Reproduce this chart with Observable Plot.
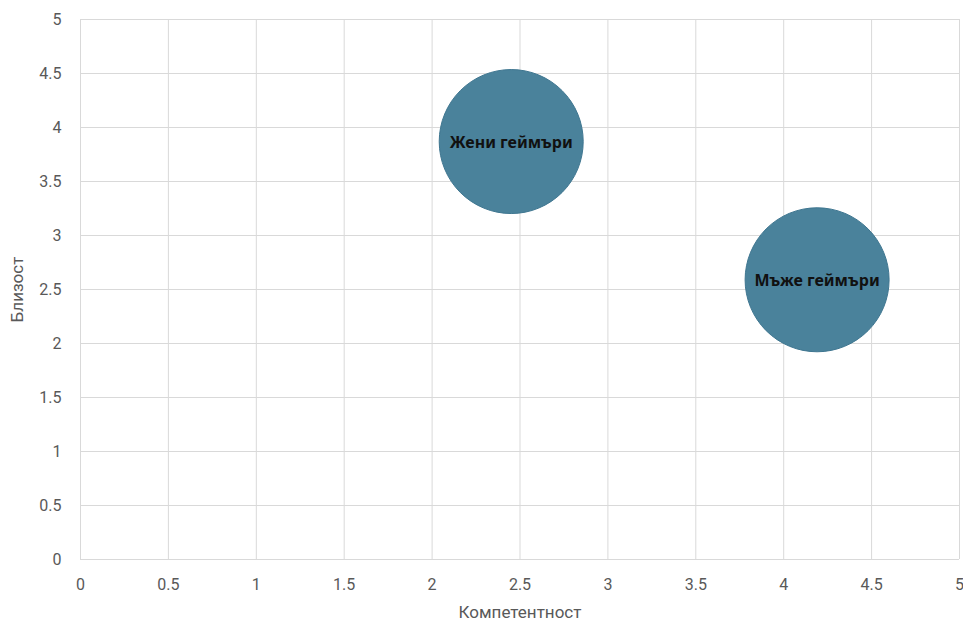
<!DOCTYPE html>
<html>
<head>
<meta charset="utf-8">
<script src="https://cdn.jsdelivr.net/npm/d3@7"></script>
<script src="https://cdn.jsdelivr.net/npm/@observablehq/plot@0.6"></script>
<style>
  html, body { margin: 0; padding: 0; background: #fff; }
  #chart { width: 963px; height: 624px; }
</style>
</head>
<body>
<div id="chart"></div>
<script>
const groups = ["Жени геймъри", "Мъже геймъри"];
const competence = [2.45, 4.19];
const closeness = [3.87, 2.59];
const bubbleSize = [10, 10];
const ticks = [0, 0.5, 1, 1.5, 2, 2.5, 3, 3.5, 4, 4.5, 5];

const data = groups.map((g, i) => ({
  group: g, x: competence[i], y: closeness[i], size: bubbleSize[i]
}));

const chart = Plot.plot({
  width: 963,
  height: 624,
  marginLeft: 80,
  marginRight: 4,
  marginTop: 19,
  marginBottom: 65,
  style: { fontFamily: "Roboto, 'Liberation Sans', sans-serif", background: "#fff" },
  x: { domain: [0, 5] },
  y: { domain: [0, 5] },
  r: { type: "linear", domain: [0, 10], range: [0, 72] },
  marks: [
    Plot.gridX(ticks, { stroke: "#d9d9d9", strokeOpacity: 1, strokeWidth: 1 }),
    Plot.gridY(ticks, { stroke: "#d9d9d9", strokeOpacity: 1, strokeWidth: 1 }),
    Plot.axisX(ticks, {
      tickSize: 0, tickPadding: 19, fontSize: 16, fill: "#595959",
      tickFormat: d => String(d),
      label: "Компетентност", labelAnchor: "center", labelOffset: 58
    }),
    Plot.axisY(ticks, {
      tickSize: 0, tickPadding: 19, fontSize: 16, fill: "#595959",
      tickFormat: d => String(d),
      label: "Близост", labelAnchor: "center", labelOffset: 70
    }),
    Plot.dot(data, {
      x: "x", y: "y", r: "size",
      fill: "#4a829b", stroke: "#3f7690", strokeWidth: 1
    }),
    Plot.text(data, {
      x: "x", y: "y", text: "group", dy: 1,
      fontSize: 16, fontWeight: "bold", fill: "#111",
      fontFamily: "'Noto Sans', sans-serif"
    })
  ]
});
chart.querySelectorAll("[aria-label='x-axis label'] text, [aria-label='y-axis label'] text").forEach(t => {
  t.textContent = t.textContent.replace(/\s*[→↑]\s*/g, "").replace(/^[→↑]\s*/, "");
  t.setAttribute("font-size", "17");
  t.setAttribute("fill", "#595959");
});
document.getElementById("chart").appendChild(chart);
</script>
</body>
</html>
